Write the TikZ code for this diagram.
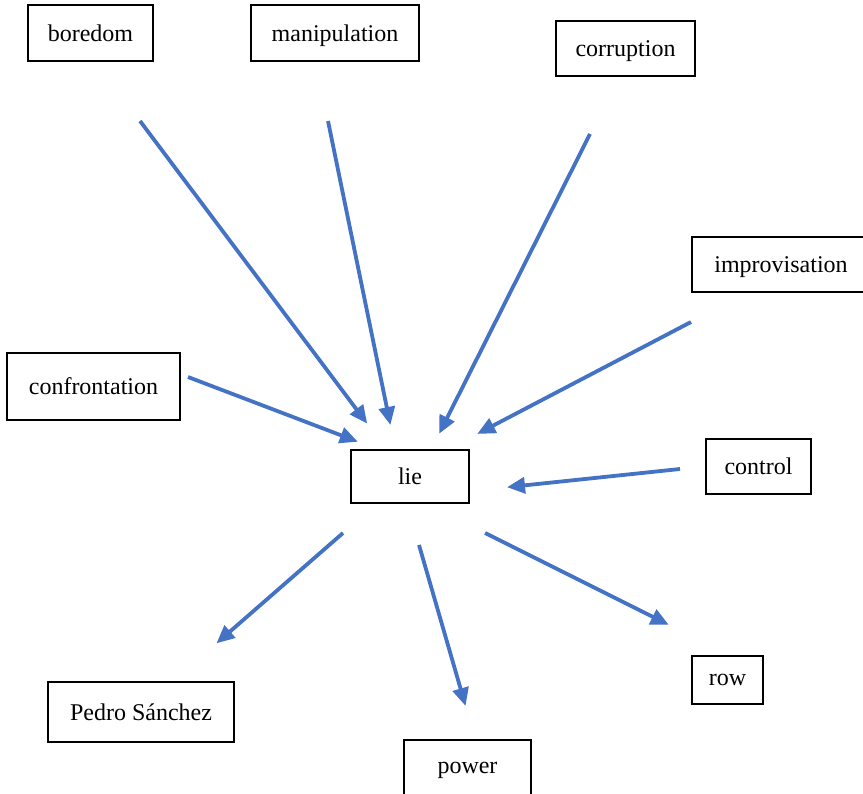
\documentclass[tikz,border=0pt]{standalone}
\usepackage{fontspec}
\setmainfont{Liberation Serif}
\usetikzlibrary{arrows.meta}
\definecolor{arrowblue}{HTML}{4472C4}
\tikzset{
  term/.style={draw=black, line width=1.5pt, fill=white, inner sep=0pt,
    font=\fontsize{24}{28}\selectfont, text depth=0pt, yshift=1pt},
  link/.style={draw=arrowblue, line width=3.8pt,
    -{Triangle[length=18pt,width=16pt]}, shorten >=-2pt}
}
\begin{document}
\begin{tikzpicture}[x=1pt,y=-1pt]
  \useasboundingbox (0,0) rectangle (863,794);
  \clip (0,0) rectangle (863,794);

  % concept boxes
  \node[term, minimum width=125, minimum height=56] (boredom) at (90.5,34) {boredom};
  \node[term, minimum width=168, minimum height=56] (manip) at (335,34) {manipulation};
  \node[term, minimum width=139, minimum height=55] (corrupt) at (625.5,49.5) {corruption};
  \node[term, minimum width=178, minimum height=55] (improv) at (781,265.5) {improvisation};
  \node[term, minimum width=173, minimum height=67] (confront) at (93.5,387.5) {confrontation};
  \node[term, minimum width=118, minimum height=53] (lie) at (410,477.5) {lie};
  \node[term, minimum width=105, minimum height=55] (control) at (758.5,467.5) {control};
  \node[term, minimum width=71, minimum height=48] (row) at (727.5,681) {row};
  \node[term, minimum width=186, minimum height=60] (pedro) at (141,713) {Pedro Sánchez};
  \node[term, minimum width=127, minimum height=56] (power) at (467.5,769) {power};

  % free arrow ends
  \coordinate (boredomS) at (140,121);   \coordinate (boredomE) at (366,422);
  \coordinate (manipS) at (328,121);     \coordinate (manipE) at (390,423);
  \coordinate (corruptS) at (590,134);   \coordinate (corruptE) at (440,432);
  \coordinate (improvS) at (691,322);    \coordinate (improvE) at (479,433);
  \coordinate (confrontS) at (188,377);  \coordinate (confrontE) at (356,441);
  \coordinate (controlS) at (680,469);   \coordinate (controlE) at (509,487);
  \coordinate (pedroS) at (343,533);     \coordinate (pedroE) at (218,642);
  \coordinate (powerS) at (419,545);     \coordinate (powerE) at (465,704);
  \coordinate (rowS) at (485,533);       \coordinate (rowE) at (667,624);

  % connectors
  \draw[link] (boredomS) -- (boredomE);
  \draw[link] (manipS) -- (manipE);
  \draw[link] (corruptS) -- (corruptE);
  \draw[link] (improvS) -- (improvE);
  \draw[link] (confrontS) -- (confrontE);
  \draw[link] (controlS) -- (controlE);
  \draw[link] (pedroS) -- (pedroE);
  \draw[link] (powerS) -- (powerE);
  \draw[link] (rowS) -- (rowE);
\end{tikzpicture}
\end{document}
